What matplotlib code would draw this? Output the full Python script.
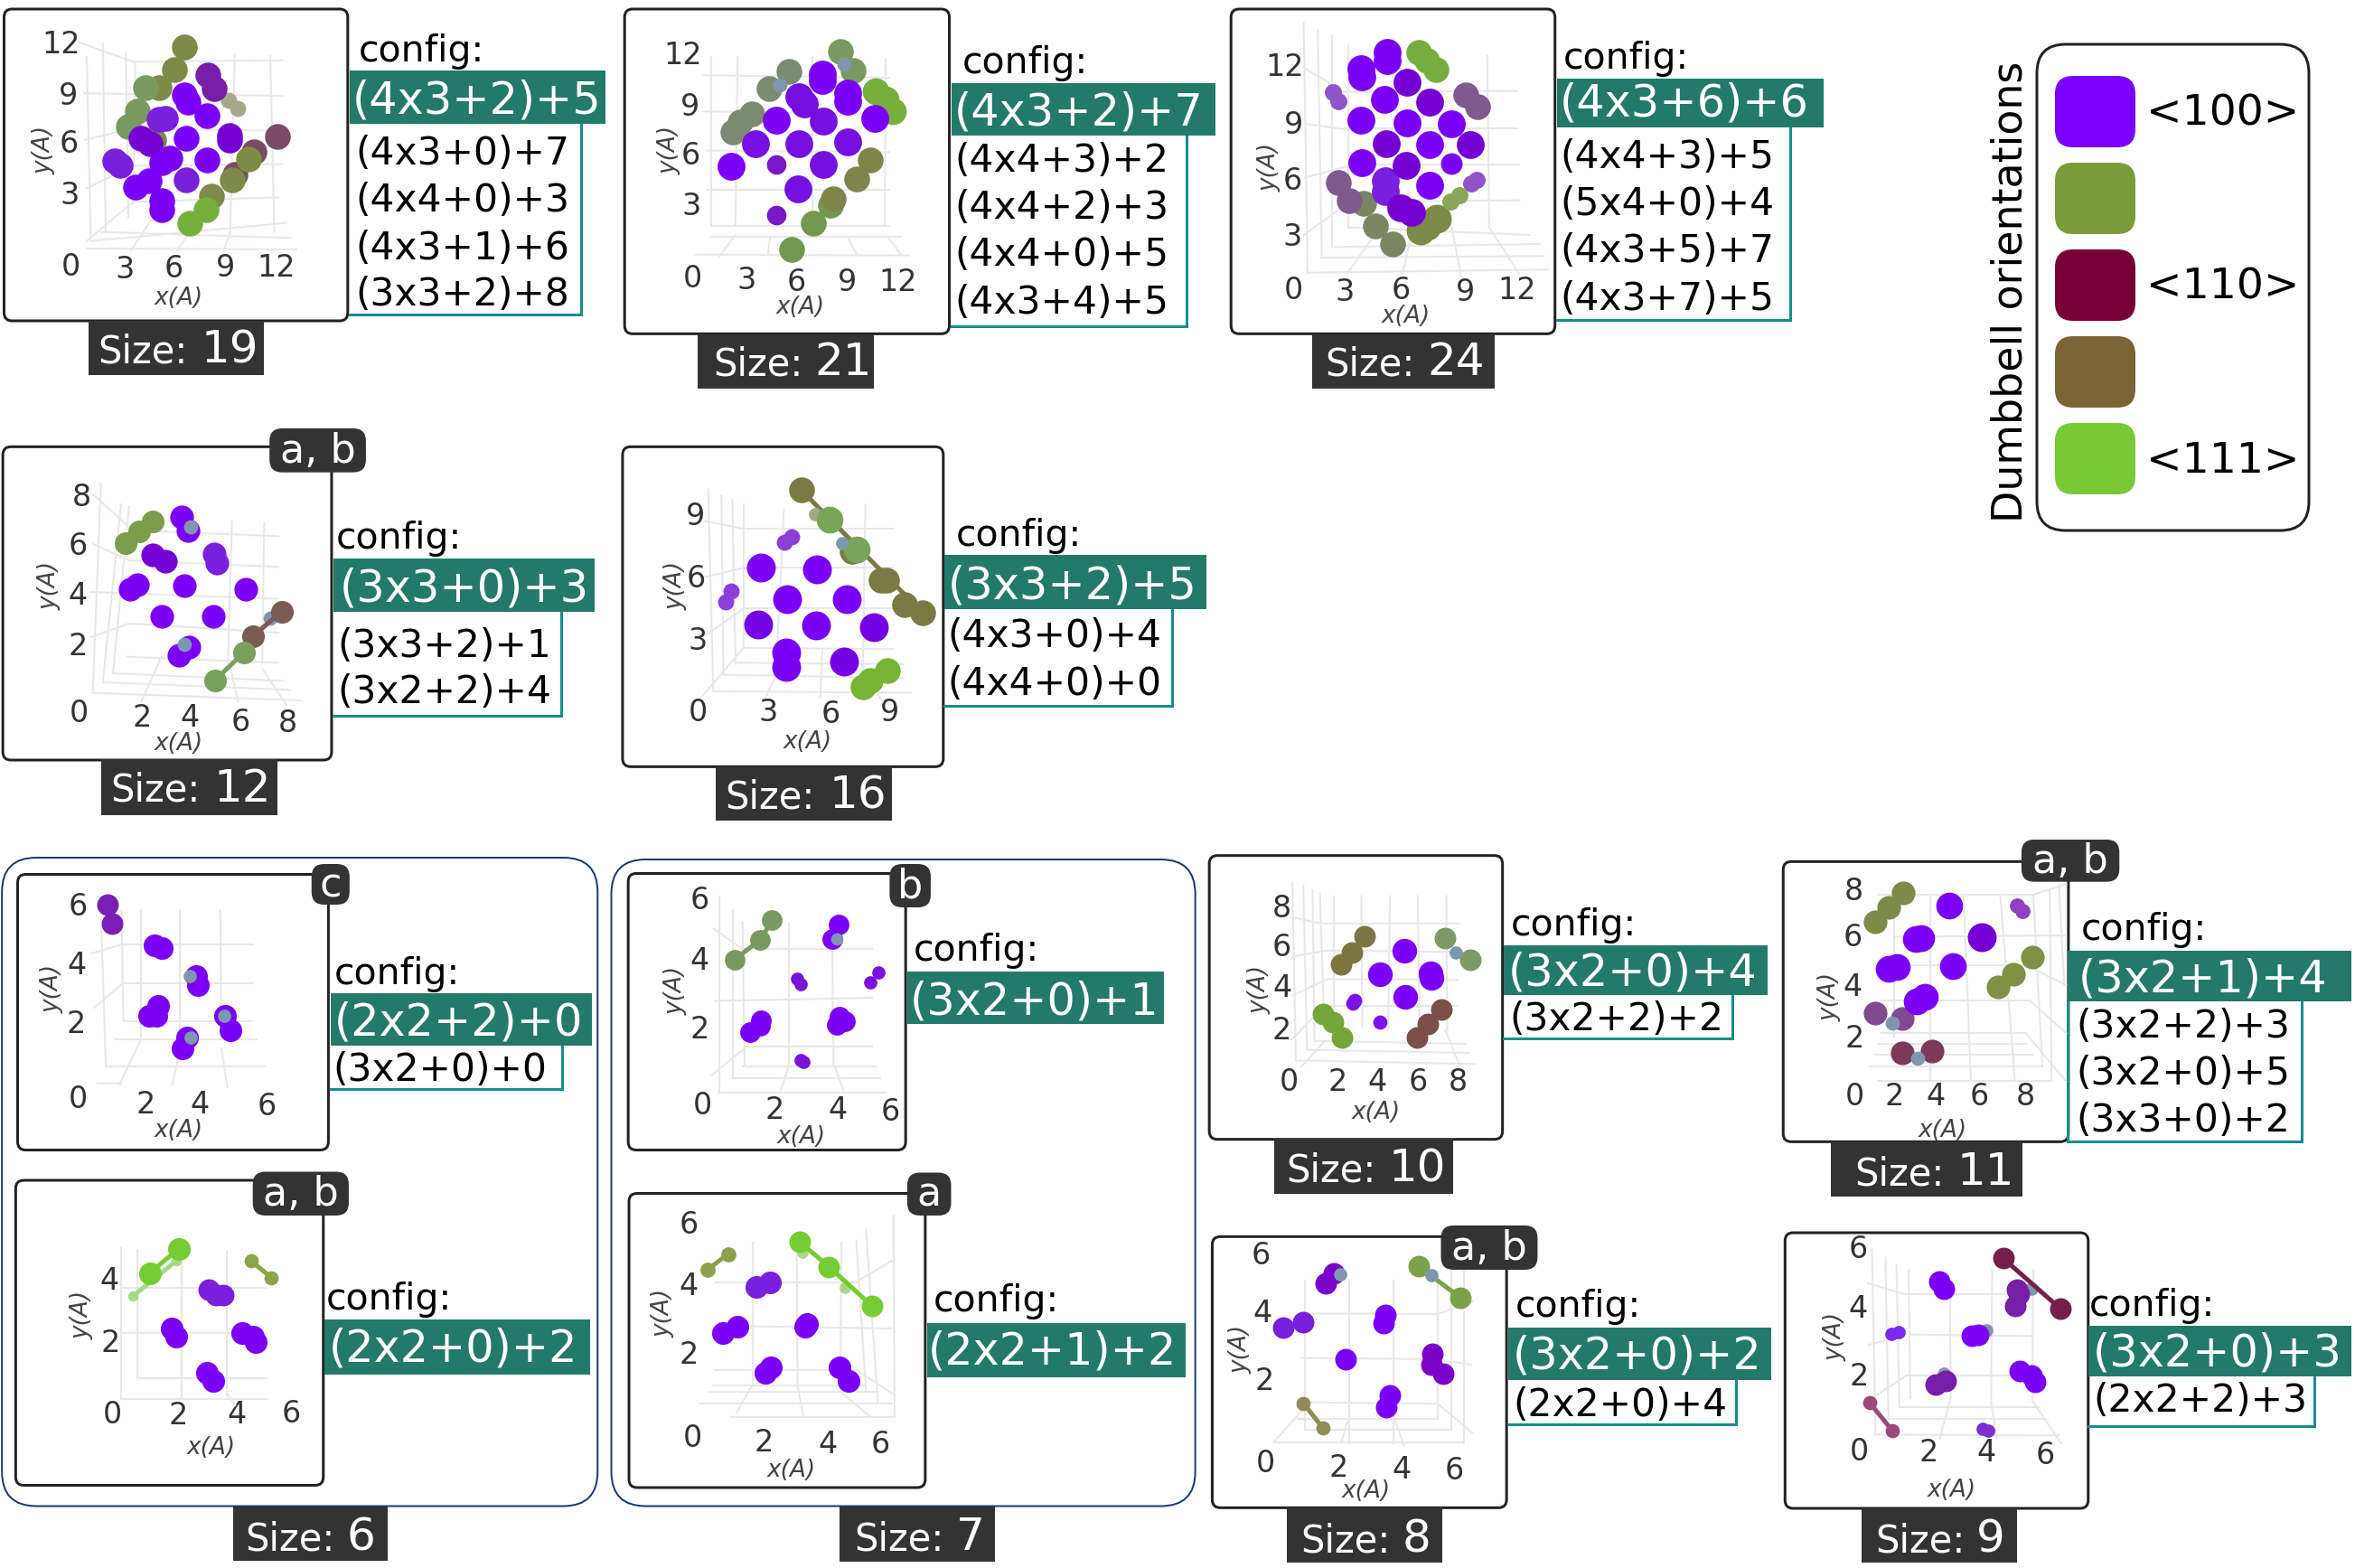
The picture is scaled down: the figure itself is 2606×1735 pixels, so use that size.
import matplotlib
matplotlib.use("Agg")
import matplotlib.pyplot as plt
from matplotlib.patches import FancyBboxPatch, Rectangle

W, H = 2606, 1735
plt.rcParams['font.family'] = ['DejaVu Sans']

# ---------- palette ----------
BRIGHT='#7b00f8'; DEEP='#7400d4'; MUTED='#7a1fdc'; PLUM='#761fa6'; SMALLP='#8238dc'; LAV='#7e5a8e'
OLIVE='#7d8a48'; SAGE='#789a60'; GRAYOL='#7c8a72'; LGREEN='#75b03c'; VGREEN='#76cc33'; BROL='#7b7542'
PLUMB='#7b4a66'; BROWN='#7a5a52'; WINE='#751f4d'; GBLUE='#7f97ae'; PALE='#a8a68a'; PALEG='#a6d985'

# ---------- atom positions read in each crop's projected plane ----------
s19_olive2 = [(380,465)]
s19_sage = [(360,292),(340,370),(318,420)]
s19_olive = [(458,155),(432,230),(395,292)]
s19_plum = [(515,250),(530,295)]
s19_pale = [(566,332),(590,360)]
s19_plumb = [(688,453),(630,505),(582,580)]
s19_olive3 = [(615,528),(575,598),(525,650)]
s19_lgreen = [(510,695),(470,740)]
s19_bright = [(458,315),(465,338),(514,385),(462,460),(400,540),(420,525),(512,532),(335,620),(370,600),(402,665),(402,695)]
s19_deep = [(568,450),(568,465),(350,460),(372,478)]
s19_muted = [(410,393),(395,395),(285,535),(298,548),(462,598)]

s21_gray = [(433,237),(382,295),(340,378),(312,405),(293,437)]
s21_sage = [(560,170),(592,235)]
s21_blue = [(410,283),(568,212)]
s21_lgreen = [(648,303),(672,330),(690,370)]
s21_olive = [(635,530),(600,593),(543,660)]
s21_green = [(535,680),(492,740),(438,828)]
s21_bright = [(515,245),(515,268),(578,310),(578,335),(402,400),(288,552),(645,393)]
s21_muted = [(458,320),(470,345),(350,478),(458,478),(517,402),(517,547),(578,470),(455,627)]
s21_small = [(402,547),(400,715)]

s24_lav = [(587,315),(615,355),(272,605),(297,665)]
s24_smalll = [(257,305),(272,335),(600,608),(613,597)]
s24_gol = [(333,675),(363,750),(405,810)]
s24_olive = [(515,725),(490,750),(475,765)]
s24_lsage = [(548,668),(572,648)]
s24_lgreen = [(470,175),(490,200),(512,230)]
s24_bright = [(393,175),(393,200),(327,228),(330,255),(386,330),(326,400),(442,408),(550,410),(497,480),(330,540),(498,615)]
s24_deep = [(442,272),(498,340),(390,478),(597,480),(440,548),(425,690),(452,705)]
s24_muted = [(388,600),(388,635)]
s24_smallb = [(552,543)]

s12_green = [(378,320),(345,355),(312,392)]
s12_bright = [(450,307),(467,350),(340,530),(322,545),(458,535),(610,545),(400,635),(528,635),(468,738),(443,765)]
s12_deep = [(378,433),(410,452)]
s12_muted = [(530,430),(538,460)]
s12_blue = [(472,338),(458,730),(670,642)]
s12_brown = [(698,620),(627,702)]
s12_sage = [(605,755),(533,848)]

s16_bright = [(363,475),(502,480),(428,580),(575,580),(500,665),(425,755),(425,805)]
s16_deep = [(357,663),(642,672),(568,785)]
s16_small = [(440,373),(422,390),(288,553),(276,588)]
s16_olive = [(463,217),(763,623)]
s16_olive2 = [(590,420),(660,515),(675,515),(718,598)]
s16_sage = [(532,315),(600,415)]
s16_pale = [(497,296)]
s16_blue = [(565,392)]
s16_lgreen = [(677,815),(635,850),(615,870)]

s6c_muted = [(275,103),(287,145)]
s6c_bright = [(395,192),(412,197),(500,260),(505,280),(403,325),(380,347),(400,347),(575,347),(587,380),(478,395),(465,420)]
s6c_blue = [(485,260),(573,347),(487,395)]
s6ab_pale = [(340,968),(450,890)]
s6ab_green = [(457,863),(382,917)]
s6ab_olive = [(640,890),(692,927)]
s6ab_muted = [(533,953),(550,965),(570,965)]
s6ab_bright = [(437,1040),(450,1058),(618,1050),(645,1058),(652,1070),(528,1137),(545,1155)]

s7b_sage = [(425,137),(395,180),(330,223)]
s7b_bright = [(595,147),(578,178),(397,358),(370,383),(395,370),(597,350),(610,360),(590,368)]
s7b_blue = [(590,178)]
s7b_small = [(490,265),(497,277),(675,273),(697,252),(498,445),(505,450)]
s7a_olive = [(260,910),(313,875)]
s7a_pale = [(502,872),(612,950)]
s7a_green = [(495,848),(570,903),(680,990)]
s7a_muted = [(420,937),(385,948)]
s7a_bright = [(510,1035),(515,1030),(337,1035),(300,1050),(422,1125),(408,1137),(598,1125),(620,1155)]

s10_bright = [(550,335),(482,415),(620,410),(622,425),(552,490)]
s10_small = [(413,500),(408,510),(482,572)]
s10_brol = [(442,288),(407,342),(378,380)]
s10_sage = [(658,293),(728,367)]
s10_blue = [(688,342)]
s10_green = [(328,545),(355,573),(380,625)]
s10_brown = [(650,530),(612,578),(582,624)]

s11_olive = [(335,145),(295,193),(258,240)]
s11_olive2 = [(688,358),(637,413),(595,455)]
s11_bright = [(462,187),(370,297),(385,293),(295,395),(318,390),(472,387),(372,505),(395,488)]
s11_deep = [(550,290)]
s11_small = [(645,187),(660,203)]
s11_lav = [(260,543),(333,560)]
s11_wine = [(333,675),(413,668)]
s11_blue = [(305,575),(375,692)]

s8_deep = [(358,208),(335,240),(625,475),(622,510),(655,540)]
s8_blue = [(375,210)]
s8_muted = [(220,388),(275,368)]
s8_bright = [(497,345),(493,372),(390,492),(510,612),(500,650)]
s8_green = [(587,183),(700,287)]
s8_blue2 = [(622,212)]
s8_khaki = [(275,638),(328,720)]

s9_blue = [(685,258),(562,397),(447,540)]
s9_wine = [(608,157),(763,323)]
s9_muted = [(647,262),(650,275),(642,315),(425,575),(452,565)]
s9_bright = [(435,233),(447,257),(522,415),(540,410),(652,530),(685,545),(695,568)]
s9_small = [(302,408),(322,403)]
s9_small2 = [(552,723),(568,730)]
s9_wine2 = [(243,635),(305,728)]

# ---------- faint projected grid lines ----------
g19 = [(195,140,330,205),(330,205,700,200),(210,310,700,318),(210,465,330,425),(330,425,700,435),(215,625,330,550),(330,550,700,545),(215,800,330,670),(330,670,690,655),(225,800,710,740),(250,770,720,790),(215,825,735,828),(215,190,225,800),(255,145,262,770),(312,175,318,720),(335,205,330,670),(582,180,570,790),(670,185,680,770),(440,830,470,770),(325,830,390,700),(570,770,555,830)]
g21 = [(220,250,680,258),(220,370,680,378),(230,500,680,505),(230,630,680,630),(240,750,680,750),(240,785,710,785),(200,845,730,848),(240,190,240,750),(305,190,300,750),(490,190,490,780),(672,195,670,750),(300,780,260,850),(385,790,380,845),(580,790,600,845),(680,790,710,845)]
g24 = [(185,225,280,300),(280,305,715,302),(185,410,290,430),(290,425,715,425),(185,590,300,550),(300,545,720,545),(185,780,290,680),(290,670,720,665),(295,755,745,780),(255,820,770,810),(230,855,780,850),(195,905,790,895),(185,75,195,905),(220,100,230,855),(255,120,255,820),(295,150,295,755),(640,185,645,750),(645,755,720,910),(550,740,575,915),(450,790,430,910),(360,780,295,905)]
g12 = [(230,230,320,340),(320,350,690,370),(230,395,320,450),(320,450,690,472),(225,555,690,578),(225,705,320,660),(320,660,690,690),(315,770,690,790),(280,825,700,850),(255,855,720,880),(230,890,745,915),(250,195,230,890),(300,265,255,855),(320,270,280,825),(575,320,565,790),(655,325,650,790),(400,770,350,920),(570,800,590,920),(650,810,710,930)]
g16 = [(225,320,320,345),(320,345,690,345),(225,505,320,475),(320,475,690,475),(225,700,320,610),(320,610,690,610),(320,740,690,745),(300,790,715,795),(270,830,715,840),(245,885,735,890),(232,215,245,885),(265,235,270,830),(292,250,300,790),(320,265,320,740),(622,265,615,840),(420,280,400,830),(400,830,375,905),(515,750,510,905),(645,880,665,920),(320,740,215,905)]
g6c = [(235,210,310,190),(310,190,645,190),(240,330,315,275),(315,275,645,275),(315,360,640,360),(295,400,655,400),(270,460,675,460),(250,497,310,497),(258,130,270,460),(310,115,315,360),(360,115,360,400),(460,115,460,400),(562,115,565,400),(360,400,305,500),(460,420,440,500),(565,420,580,505)]
g6ab = [(310,950,680,950),(310,1050,680,1050),(350,1150,680,1150),(310,1195,680,1195),(310,860,310,1195),(350,865,350,1150),(463,860,463,1195),(578,870,578,1190),(578,1180,600,1210)]
g7b = [(275,155,350,200),(350,200,680,200),(280,315,680,308),(355,415,680,415),(350,460,690,460),(325,485,700,485),(290,518,715,518),(290,85,290,518),(325,115,325,485),(350,140,355,460),(467,145,467,460),(578,150,582,455),(467,460,445,520),(585,460,610,520),(355,420,270,480)]
g7a = [(280,937,640,937),(640,937,730,890),(360,1035,730,1040),(280,1132,640,1132),(640,1132,735,1185),(275,1165,665,1165),(265,1180,695,1180),(240,1205,730,1205),(320,1235,735,1235),(375,850,375,1165),(488,850,490,1165),(602,850,600,1180),(640,845,665,1180),(665,820,695,1205),(735,790,738,1235),(375,1165,335,1225),(490,1165,505,1235),(600,1180,675,1235)]
g10 = [(245,225,320,245),(320,245,695,245),(245,355,340,335),(340,335,695,340),(245,485,340,430),(340,430,695,433),(245,630,330,520),(330,520,690,520),(305,635,715,645),(285,665,725,675),(255,700,740,712),(245,110,255,700),(275,120,285,665),(300,135,305,635),(320,145,330,520),(358,155,358,610),(432,155,435,590),(510,155,505,600),(585,155,590,600),(663,155,665,600),(330,640,270,720),(660,600,695,705)]
g11 = [(265,150,690,150),(690,150,780,115),(310,290,775,285),(320,385,680,385),(680,390,780,450),(275,500,680,500),(680,500,780,610),(275,610,670,610),(670,610,780,770),(265,645,670,645),(262,680,690,680),(245,720,715,720),(265,768,740,768),(310,150,310,620),(410,150,410,768),(500,150,520,768),(600,150,640,768),(690,150,715,720),(735,130,740,768),(760,120,775,450)]
g8 = [(280,340,640,342),(640,342,735,300),(270,488,640,492),(640,492,730,510),(280,635,640,640),(640,640,735,738),(260,690,640,690),(280,725,670,725),(195,767,710,767),(280,230,280,725),(400,230,400,770),(520,230,520,770),(640,200,640,690),(675,200,675,725),(710,195,710,770),(400,680,378,767),(520,680,548,780),(280,650,195,767)]
g9 = [(240,240,335,275),(335,275,690,275),(240,445,345,410),(345,410,690,415),(345,545,690,545),(345,545,240,630),(325,650,705,650),(295,690,725,690),(260,742,760,745),(250,125,260,742),(287,155,295,690),(317,180,325,650),(350,195,355,620),(578,195,575,630),(690,195,688,630),(463,290,465,620),(465,620,435,755),(575,630,590,755),(688,630,765,770)]

# ---------- drawing helpers ----------
fig = plt.figure(figsize=(W/100, H/100), dpi=100, facecolor='white')
bg = fig.add_axes([0, 0, 1, 1], zorder=0)
bg.set_xlim(0, W); bg.set_ylim(H, 0); bg.axis('off')
top = fig.add_axes([0, 0, 1, 1], zorder=5)
top.set_xlim(0, W); top.set_ylim(H, 0); top.axis('off'); top.patch.set_alpha(0)

LW3 = 3*0.72
DK = '#333333'; TEAL = '#247a69'; OUT = '#148f8b'
DY = 3          # text baseline correction
DSCALE = 1.14   # atom diameter correction

def rbox(ax, x0, y0, x1, y1, r, **kw):
    ax.add_patch(FancyBboxPatch((x0, y0), x1-x0, y1-y0, boxstyle=f'round,pad=0,rounding_size={r}', **kw))

class Crop:
    def __init__(self, ox, oy, w, h, sx, sy):
        self.ox, self.oy, self.sx, self.sy = ox, oy, sx, sy
        self.ax = fig.add_axes([ox/W, 1-(oy+h)/H, w/W, h/H], zorder=2)
        self.ax.set_xlim(0, w*sx); self.ax.set_ylim(h*sy, 0)
        self.ax.axis('off'); self.ax.patch.set_alpha(0)
    def x(self, v): return self.ox + v/self.sx
    def y(self, v): return self.oy + v/self.sy

def atoms(c, pts, col, d=25, bond=False, z=3):
    xs = [p[0] for p in pts]; ys = [p[1] for p in pts]
    if bond:
        c.ax.plot(xs, ys, color=col, lw=5*0.72, solid_capstyle='round', zorder=z, clip_on=False)
    dd = d*DSCALE if d >= 19 else d*1.05
    c.ax.scatter(xs, ys, s=(dd*0.72)**2, color=col, linewidths=0, zorder=z, clip_on=False)

def grid(c, segs):
    for a, b, d, e in segs:
        c.ax.plot([a, d], [b, e], color='#e8e8e8', lw=1.5, zorder=1, clip_on=False)

def panel(c, box, xt, yt, xl, yl, badge=None):
    rbox(bg, c.x(box[0]), c.y(box[1]), c.x(box[2]), c.y(box[3]), 9, fc='white', ec='#222222', lw=LW3)
    for s, a, b in xt + yt:
        bg.text(c.x(a), c.y(b)+DY-1, s, fontsize=24, color=DK, ha='center', va='center')
    bg.text(c.x(xl[0]), c.y(xl[1])+DY-1, 'x(A)', fontsize=19, style='italic', color='#444444', ha='center', va='center')
    bg.text(c.x(yl[0]), c.y(yl[1]), 'y(A)', fontsize=19, style='italic', color='#444444', ha='center', va='center', rotation=90)
    if badge:
        a, b, d, e, s = badge
        rbox(top, c.x(a), c.y(b), c.x(d), c.y(e), 14, fc=DK, ec='none')
        top.text((c.x(a)+c.x(d))/2, (c.y(b)+c.y(e))/2+1, s, fontsize=32, color='white', ha='center', va='center')

def config(c, cfg, teal, txt, label, alt_x=None, alts=(), out=None, left=None):
    bg.text(c.x(cfg[0])-1, c.y(cfg[1])+DY-1, 'config:', fontsize=29.5, color='black', ha='left', va='center')
    if out:
        xs = [c.x(teal[0]), c.x(out[0]), c.x(out[0])]
        ys = [c.y(out[1]), c.y(out[1]), c.y(teal[3])]
        bg.plot(xs, ys, color=OUT, lw=LW3, solid_joinstyle='miter')
        if left:
            bg.plot([c.x(left), c.x(left)], [c.y(teal[3]), c.y(out[1])], color=OUT, lw=LW3)
    top.add_patch(Rectangle((c.x(teal[0]), c.y(teal[1])), (teal[2]-teal[0])/c.sx, (teal[3]-teal[1])/c.sy, fc=TEAL, ec='none'))
    top.text(c.x(txt[0])-1, c.y(txt[1])+DY, label, fontsize=35.5, color='white', ha='left', va='center')
    for s, y in alts:
        bg.text(c.x(alt_x)-2, c.y(y)+DY, s, fontsize=30.5, color='black', ha='left', va='center')

def sizebar(c, bar, tx, dx, y, num):
    top.add_patch(Rectangle((c.x(bar[0]), c.y(bar[1])), (bar[2]-bar[0])/c.sx, (bar[3]-bar[1])/c.sy, fc=DK, ec='none'))
    top.text(c.x(tx)-1, c.y(y)+DY, 'Size:', fontsize=30, color='white', ha='left', va='center')
    top.text(c.x(dx)-2, c.y(y)+DY-2, num, fontsize=36, color='white', ha='left', va='center')

# ---------- Size 19 ----------
c = Crop(0, 0, 700, 430, 2.24, 3)
panel(c, (10,30,862,1065), [('0',175,880),('3',310,888),('6',430,886),('9',558,885),('12',685,885)],
      [('12',152,143),('9',170,312),('6',170,472),('3',172,645)], (443,983), (108,498))
config(c, (890,165), (868,233,1500,410), (875,325), '(4x3+2)+5', 885,
       [('(4x3+0)+7',500),('(4x4+0)+3',657),('(4x3+1)+6',815),('(3x3+2)+8',970)], (1440,1045))
sizebar(c, (220,1065,655,1245), 245, 503, 1158, '19')
grid(c, g19)
atoms(c, s19_olive2, OLIVE, 25); atoms(c, s19_plumb, PLUMB, 25); atoms(c, s19_olive, OLIVE, 25)
atoms(c, s19_sage, SAGE, 25); atoms(c, s19_pale, PALE, 17); atoms(c, s19_olive3, OLIVE, 25)
atoms(c, s19_lgreen, LGREEN, 25); atoms(c, s19_plum, PLUM, 25); atoms(c, s19_muted, MUTED, 25)
atoms(c, s19_deep, DEEP, 25); atoms(c, s19_bright, BRIGHT, 25)

# ---------- Size 21 ----------
c = Crop(680, 0, 700, 430, 2.24, 3)
panel(c, (25,30,830,1108), [('0',193,918),('3',328,925),('6',450,932),('9',577,932),('12',703,930)],
      [('12',170,178),('9',188,350),('6',188,510),('3',190,680)], (462,1015), (135,498))
config(c, (865,205), (835,277,1490,450), (845,365), '(4x3+2)+7', 848,
       [('(4x4+3)+2',525),('(4x4+2)+3',682),('(4x4+0)+5',838),('(4x3+4)+5',995)], (1418,1082))
sizebar(c, (207,1110,642,1290), 247, 500, 1200, '21')
grid(c, g21)
atoms(c, s21_gray, GRAYOL, 25); atoms(c, s21_sage, SAGE, 25); atoms(c, s21_blue, GBLUE, 15)
atoms(c, s21_lgreen, LGREEN, 26); atoms(c, s21_green, '#72984f', 25); atoms(c, s21_olive, '#7e844c', 25)
atoms(c, s21_small, '#7a18c8', 19); atoms(c, s21_muted, '#7510e0', 27); atoms(c, s21_bright, BRIGHT, 27)

# ---------- Size 24 ----------
c = Crop(1360, 0, 700, 430, 2.24, 3)
panel(c, (5,30,808,1108), [('0',160,958),('3',287,965),('6',427,958),('9',585,965),('12',713,958)],
      [('12',138,218),('9',160,410),('6',157,595),('3',158,782)], (438,1045), (100,555))
config(c, (830,188), (812,260,1473,422), (822,335), '(4x3+6)+6', 825,
       [('(4x4+3)+5',512),('(5x4+0)+4',668),('(4x3+5)+7',825),('(4x3+7)+5',983)], (1390,1062))
sizebar(c, (205,1110,658,1290), 240, 495, 1200, '24')
grid(c, g24)
atoms(c, s24_gol, '#7b8660', 25); atoms(c, s24_lav, LAV, 25); atoms(c, s24_smalll, '#8f55c8', 18)
atoms(c, s24_olive, OLIVE, 28); atoms(c, s24_lsage, '#8aa55a', 18); atoms(c, s24_lgreen, '#76ad3f', 25)
atoms(c, s24_muted, MUTED, 27); atoms(c, s24_deep, DEEP, 27); atoms(c, s24_bright, BRIGHT, 27)
atoms(c, s24_smallb, BRIGHT, 21)

# ---------- Size 12 ----------
c = Crop(0, 470, 700, 450, 2.24, 3)
panel(c, (7,73,822,1113), [('0',195,952),('2',352,968),('4',470,968),('6',597,982),('8',712,985)],
      [('8',202,235),('6',194,398),('4',193,562),('2',193,730)], (443,1052), (122,535), (668,12,907,158,'a, b'))
config(c, (836,372), (826,445,1473,620), (845,535), '(3x3+0)+3', 840,
       [('(3x3+2)+1',725),('(3x2+2)+4',878)], (1390,965))
sizebar(c, (250,1110,687,1295), 275, 535, 1205, '12')
grid(c, g12)
atoms(c, s12_green, '#7a9e4c', 22); atoms(c, s12_bright, BRIGHT, 23); atoms(c, s12_deep, DEEP, 23)
atoms(c, s12_muted, MUTED, 23); atoms(c, s12_blue, GBLUE, 15); atoms(c, s12_brown, BROWN, 22, True)
atoms(c, s12_sage, '#79a05c', 22, True)

# ---------- Size 16 ----------
c = Crop(680, 470, 700, 450, 2.24, 3)
panel(c, (20,73,815,1135), [('0',208,950),('3',380,950),('6',535,955),('9',683,950)],
      [('9',200,298),('6',202,505),('3',207,712)], (478,1048), (152,535))
config(c, (848,362), (818,433,1468,612), (828,525), '(3x3+2)+5', 830,
       [('(4x3+0)+4',692),('(4x4+0)+0',852)], (1383,932))
sizebar(c, (251,1135,688,1315), 277, 537, 1228, '16')
grid(c, g16)
atoms(c, s16_olive, '#7b7a45', 25, True); atoms(c, s16_olive2, '#7b7a45', 25); atoms(c, s16_pale, PALE, 14)
atoms(c, s16_sage, '#78a558', 26); atoms(c, s16_blue, GBLUE, 14); atoms(c, s16_lgreen, '#79b535', 25)
atoms(c, s16_small, '#8a3fd8', 17); atoms(c, s16_deep, '#7400e4', 28); atoms(c, s16_bright, BRIGHT, 28)

# ---------- Size 6 ----------
c = Crop(0, 950, 680, 785, 2.306, 2.0)
rbox(bg, c.x(5), c.y(-2), c.x(1525), c.y(1433), 38, fc='white', ec='#1c3b6e', lw=2*0.72)
panel(c, (45,35,838,645), [('0',200,528),('2',372,540),('4',510,540),('6',680,545)],
      [('6',200,102),('4',195,232),('2',195,362)], (455,597), (133,288), (795,12,892,102,'c'))
config(c, (855,252), (843,298,1510,413), (855,357), '(2x2+2)+0', 855, [('(3x2+0)+0',462)], (1435,510))
panel(c, (40,712,825,1387), [('0',286,1226),('2',455,1228),('4',605,1226),('6',742,1225)],
      [('4',278,930),('2',282,1068)], (540,1300), (208,1010), (645,693,890,790,'a, b'))
config(c, (835,972), (828,1020,1505,1142), (842,1078), '(2x2+0)+2')
sizebar(c, (594,1433,990,1553), 628, 890, 1500, '6')
grid(c, g6c); grid(c, g6ab)
atoms(c, s6c_muted, '#7a1eb5', 21); atoms(c, s6c_bright, BRIGHT, 22); atoms(c, s6c_blue, GBLUE, 14)
atoms(c, s6ab_pale, PALEG, 11, True); atoms(c, s6ab_green, VGREEN, 22, True); atoms(c, s6ab_olive, '#8aa648', 15, True)
atoms(c, s6ab_muted, MUTED, 21); atoms(c, s6ab_bright, BRIGHT, 22)

# ---------- Size 7 ----------
c = Crop(670, 950, 680, 785, 2.306, 2.0)
rbox(bg, c.x(15), c.y(2), c.x(1505), c.y(1433), 38, fc='white', ec='#1c3b6e', lw=2*0.72)
panel(c, (58,33,766,645), [('0',247,542),('2',432,553),('4',593,553),('6',727,557)],
      [('6',240,88),('4',240,222),('2',240,375)], (500,612), (180,292), (725,12,830,108,'b'))
config(c, (788,200), (770,250,1426,365), (780,310), '(3x2+0)+1')
panel(c, (60,741,816,1392), [('0',222,1278),('2',405,1288),('4',568,1292),('6',702,1292)],
      [('6',213,806),('4',213,942),('2',213,1095)], (475,1350), (147,1005), (770,695,882,790,'a'))
config(c, (838,975), (820,1027,1480,1148), (825,1085), '(2x2+1)+2')
sizebar(c, (598,1433,995,1555), 636, 900, 1500, '7')
grid(c, g7b); grid(c, g7a)
atoms(c, s7b_sage, SAGE, 20, True); atoms(c, s7b_small, '#7a14dc', 14); atoms(c, s7b_bright, BRIGHT, 20)
atoms(c, s7b_blue, GBLUE, 13)
atoms(c, s7a_pale, PALEG, 12); atoms(c, s7a_olive, '#8ea050', 16, True); atoms(c, s7a_green, VGREEN, 21, True)
atoms(c, s7a_muted, MUTED, 22); atoms(c, s7a_bright, BRIGHT, 22)

# ---------- Size 10 ----------
c = Crop(1330, 940, 640, 400, 2.45, 3)
panel(c, (20,20,815,962), [('0',235,767),('2',368,765),('4',475,767),('6',587,767),('8',693,767)],
      [('8',217,190),('6',217,320),('4',217,455),('2',217,595)], (472,868), (155,465))
config(c, (840,247), (818,317,1533,483), (832,400), '(3x2+0)+4', 838, [('(3x2+2)+2',555)], (1438,627))
sizebar(c, (196,960,681,1143), 230, 510, 1058, '10')
grid(c, g10)
atoms(c, s10_brol, BROL, 21); atoms(c, s10_sage, '#7d9a66', 21); atoms(c, s10_blue, GBLUE, 14)
atoms(c, s10_green, '#76a53a', 21); atoms(c, s10_brown, '#7a5048', 21)
atoms(c, s10_small, '#7f10ee', 15); atoms(c, s10_bright, BRIGHT, 24)

# ---------- Size 11 ----------
c = Crop(1970, 940, 636, 400, 2.465, 3)
panel(c, (8,40,786,970), [('0',202,815),('2',310,815),('4',425,815),('6',543,815),('8',668,815)],
      [('8',200,133),('6',198,285),('4',198,450),('2',202,622)], (443,928), (135,488), (658,-33,925,107,'a, b'))
config(c, (822,262), (785,337,1557,505), (815,420), '(3x2+1)+4', 812,
       [('(3x2+2)+3',580),('(3x2+0)+5',735),('(3x3+0)+2',890)], (1423,970), left=785)
sizebar(c, (137,968,661,1152), 205, 488, 1068, '11')
grid(c, g11)
atoms(c, s11_olive, OLIVE, 23); atoms(c, s11_olive2, '#7e9145', 23); atoms(c, s11_small, '#8f3fc0', 16)
atoms(c, s11_lav, '#7f4a90', 23); atoms(c, s11_wine, '#7c3a58', 23); atoms(c, s11_blue, GBLUE, 15)
atoms(c, s11_deep, DEEP, 28); atoms(c, s11_bright, BRIGHT, 26)

# ---------- Size 8 ----------
c = Crop(1330, 1340, 640, 395, 2.45, 3)
panel(c, (28,85,826,985), [('0',173,832),('2',370,848),('4',542,852),('6',685,855)],
      [('6',160,142),('4',165,335),('2',170,558)], (445,925), (105,460), (648,48,910,195,'a, b'))
config(c, (852,312), (830,386,1543,560), (845,472), '(3x2+0)+2', 848, [('(2x2+0)+4',635)], (1448,707))
sizebar(c, (230,985,651,1167), 270, 548, 1087, '8')
grid(c, g8)
atoms(c, s8_deep, '#7a00c8', 21); atoms(c, s8_blue, GBLUE, 14); atoms(c, s8_muted, MUTED, 21)
atoms(c, s8_bright, BRIGHT, 21); atoms(c, s8_green, '#7aa348', 21, True); atoms(c, s8_blue2, GBLUE, 14)
atoms(c, s8_khaki, '#8f8c55', 15, True)

# ---------- Size 9 ----------
c = Crop(1970, 1340, 636, 395, 2.465, 3)
panel(c, (13,72,840,987), [('0',215,792),('2',405,795),('4',562,797),('6',723,805)],
      [('6',213,120),('4',213,318),('2',215,545)], (468,922), (150,418))
config(c, (845,308), (840,382,1557,548), (855,462), '(3x2+0)+3', 858, [('(2x2+2)+3',622)], (1458,715))
sizebar(c, (221,988,645,1168), 262, 540, 1088, '9')
grid(c, g9)
atoms(c, s9_blue, GBLUE, 14); atoms(c, s9_wine, WINE, 21, True); atoms(c, s9_muted, PLUM, 21)
atoms(c, s9_bright, BRIGHT, 21); atoms(c, s9_small, '#7a28f0', 14); atoms(c, s9_small2, '#7c30d0', 14)
atoms(c, s9_wine2, '#9a4a78', 15, True)

# ---------- Legend ----------
legend_labels = ['<100>', '', '<110>', '', '<111>']
legend_colors = ['#7a00ff', '#7b9a3a', '#760033', '#7a6436', '#78c935']
legend_top = [84, 180, 276, 372, 468]
rbox(bg, 2254, 49, 2555, 587, 32, fc='white', ec='#222222', lw=LW3)
for lab, col, t in zip(legend_labels, legend_colors, legend_top):
    rbox(bg, 2274, t, 2363, t+79, 20, fc=col, ec='none')
    if lab:
        bg.text(2375, t+42, lab, fontsize=34, color='black', ha='left', va='center')
bg.text(2225, 323, 'Dumbbell orientations', fontsize=33, color='black', rotation=90, ha='center', va='center')

fig.savefig('out.png', dpi=100, facecolor='white')
